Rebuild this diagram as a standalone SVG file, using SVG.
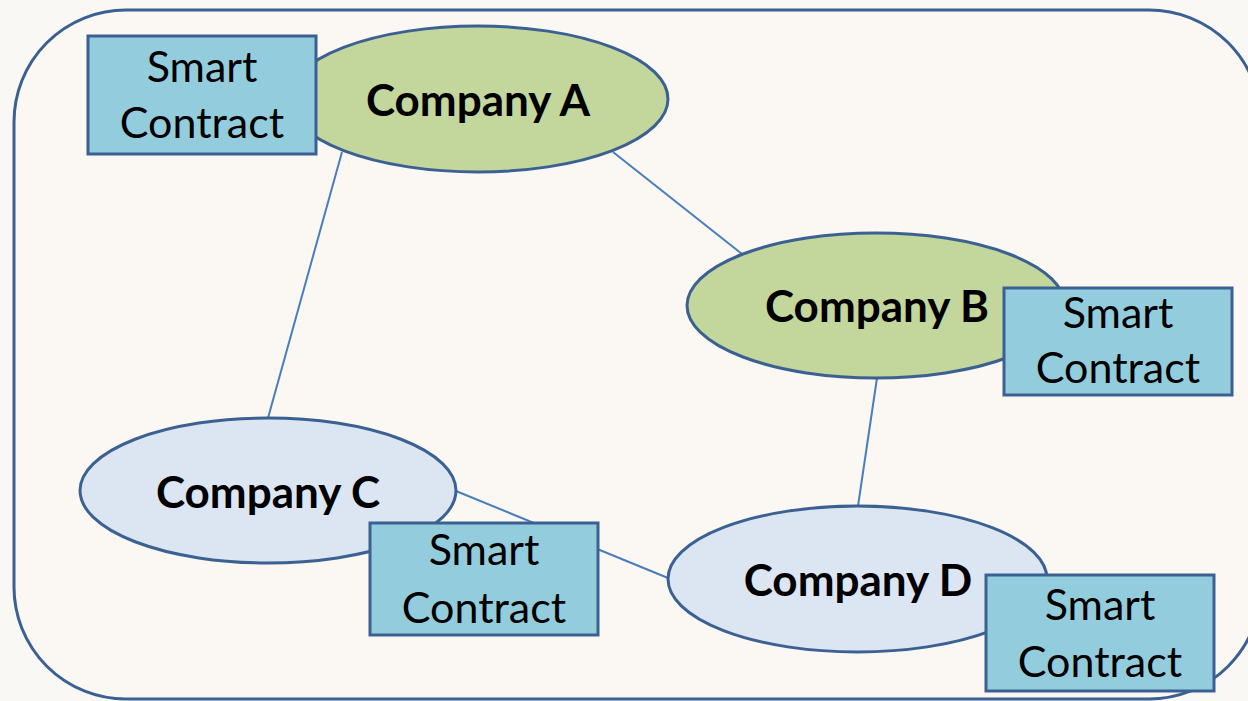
<svg xmlns="http://www.w3.org/2000/svg" width="1248" height="701" viewBox="0 0 1248 701">
  <style>
    .frame { fill: #fbf7f2; stroke: #3b6192; stroke-width: 3; }
    .link { stroke: #4a7ebb; stroke-width: 2; fill: none; }
    .co-green { fill: #c3d69b; stroke: #3b6192; stroke-width: 3; }
    .co-blue { fill: #dce6f2; stroke: #3b6192; stroke-width: 3; }
    .contract { fill: #93cddd; stroke: #3b6192; stroke-width: 3; }
    .co-label { font-family: "Lato", "Liberation Sans", sans-serif; font-weight: bold; font-size: 44px; fill: #000; text-anchor: middle; }
    .sc-label { font-family: "Lato", "Liberation Sans", sans-serif; font-size: 43px; fill: #000; text-anchor: middle; }
  </style>

  <rect x="0" y="0" width="1248" height="701" fill="#faf8f5"/>
  <rect class="frame" x="14" y="10" width="1247" height="689" rx="112" ry="112"/>

  <!-- links between companies -->
  <g id="connectors">
    <line class="link" x1="342" y1="152" x2="268" y2="418"/>
    <line class="link" x1="613" y1="152" x2="742" y2="254"/>
    <line class="link" x1="877" y1="378" x2="858" y2="506"/>
    <line class="link" x1="456" y1="491" x2="668" y2="578"/>
  </g>

  <g id="company-a">
    <ellipse class="co-green" cx="478" cy="99" rx="190" ry="73"/>
    <text class="co-label" x="478" y="116">Company A</text>
  </g>
  <g id="contract-a">
    <rect class="contract" x="88" y="36" width="228" height="118"/>
    <text class="sc-label" x="202" y="82">Smart</text>
    <text class="sc-label" x="202" y="138">Contract</text>
  </g>

  <g id="company-b">
    <ellipse class="co-green" cx="876" cy="305.5" rx="189" ry="72.5"/>
    <text class="co-label" x="877" y="322">Company B</text>
  </g>
  <g id="contract-b">
    <rect class="contract" x="1004" y="288" width="228" height="107"/>
    <text class="sc-label" x="1118" y="328">Smart</text>
    <text class="sc-label" x="1118" y="383">Contract</text>
  </g>

  <g id="company-c">
    <ellipse class="co-blue" cx="268" cy="490.5" rx="188" ry="72.5"/>
    <text class="co-label" x="268" y="508">Company C</text>
  </g>
  <g id="contract-c">
    <rect class="contract" x="370" y="523" width="228" height="112"/>
    <text class="sc-label" x="484" y="565">Smart</text>
    <text class="sc-label" x="484" y="623">Contract</text>
  </g>

  <g id="company-d">
    <ellipse class="co-blue" cx="857.5" cy="579" rx="189.5" ry="73"/>
    <text class="co-label" x="858" y="596">Company D</text>
  </g>
  <g id="contract-d">
    <rect class="contract" x="986" y="575" width="228" height="116"/>
    <text class="sc-label" x="1100" y="620">Smart</text>
    <text class="sc-label" x="1100" y="677">Contract</text>
  </g>
</svg>
